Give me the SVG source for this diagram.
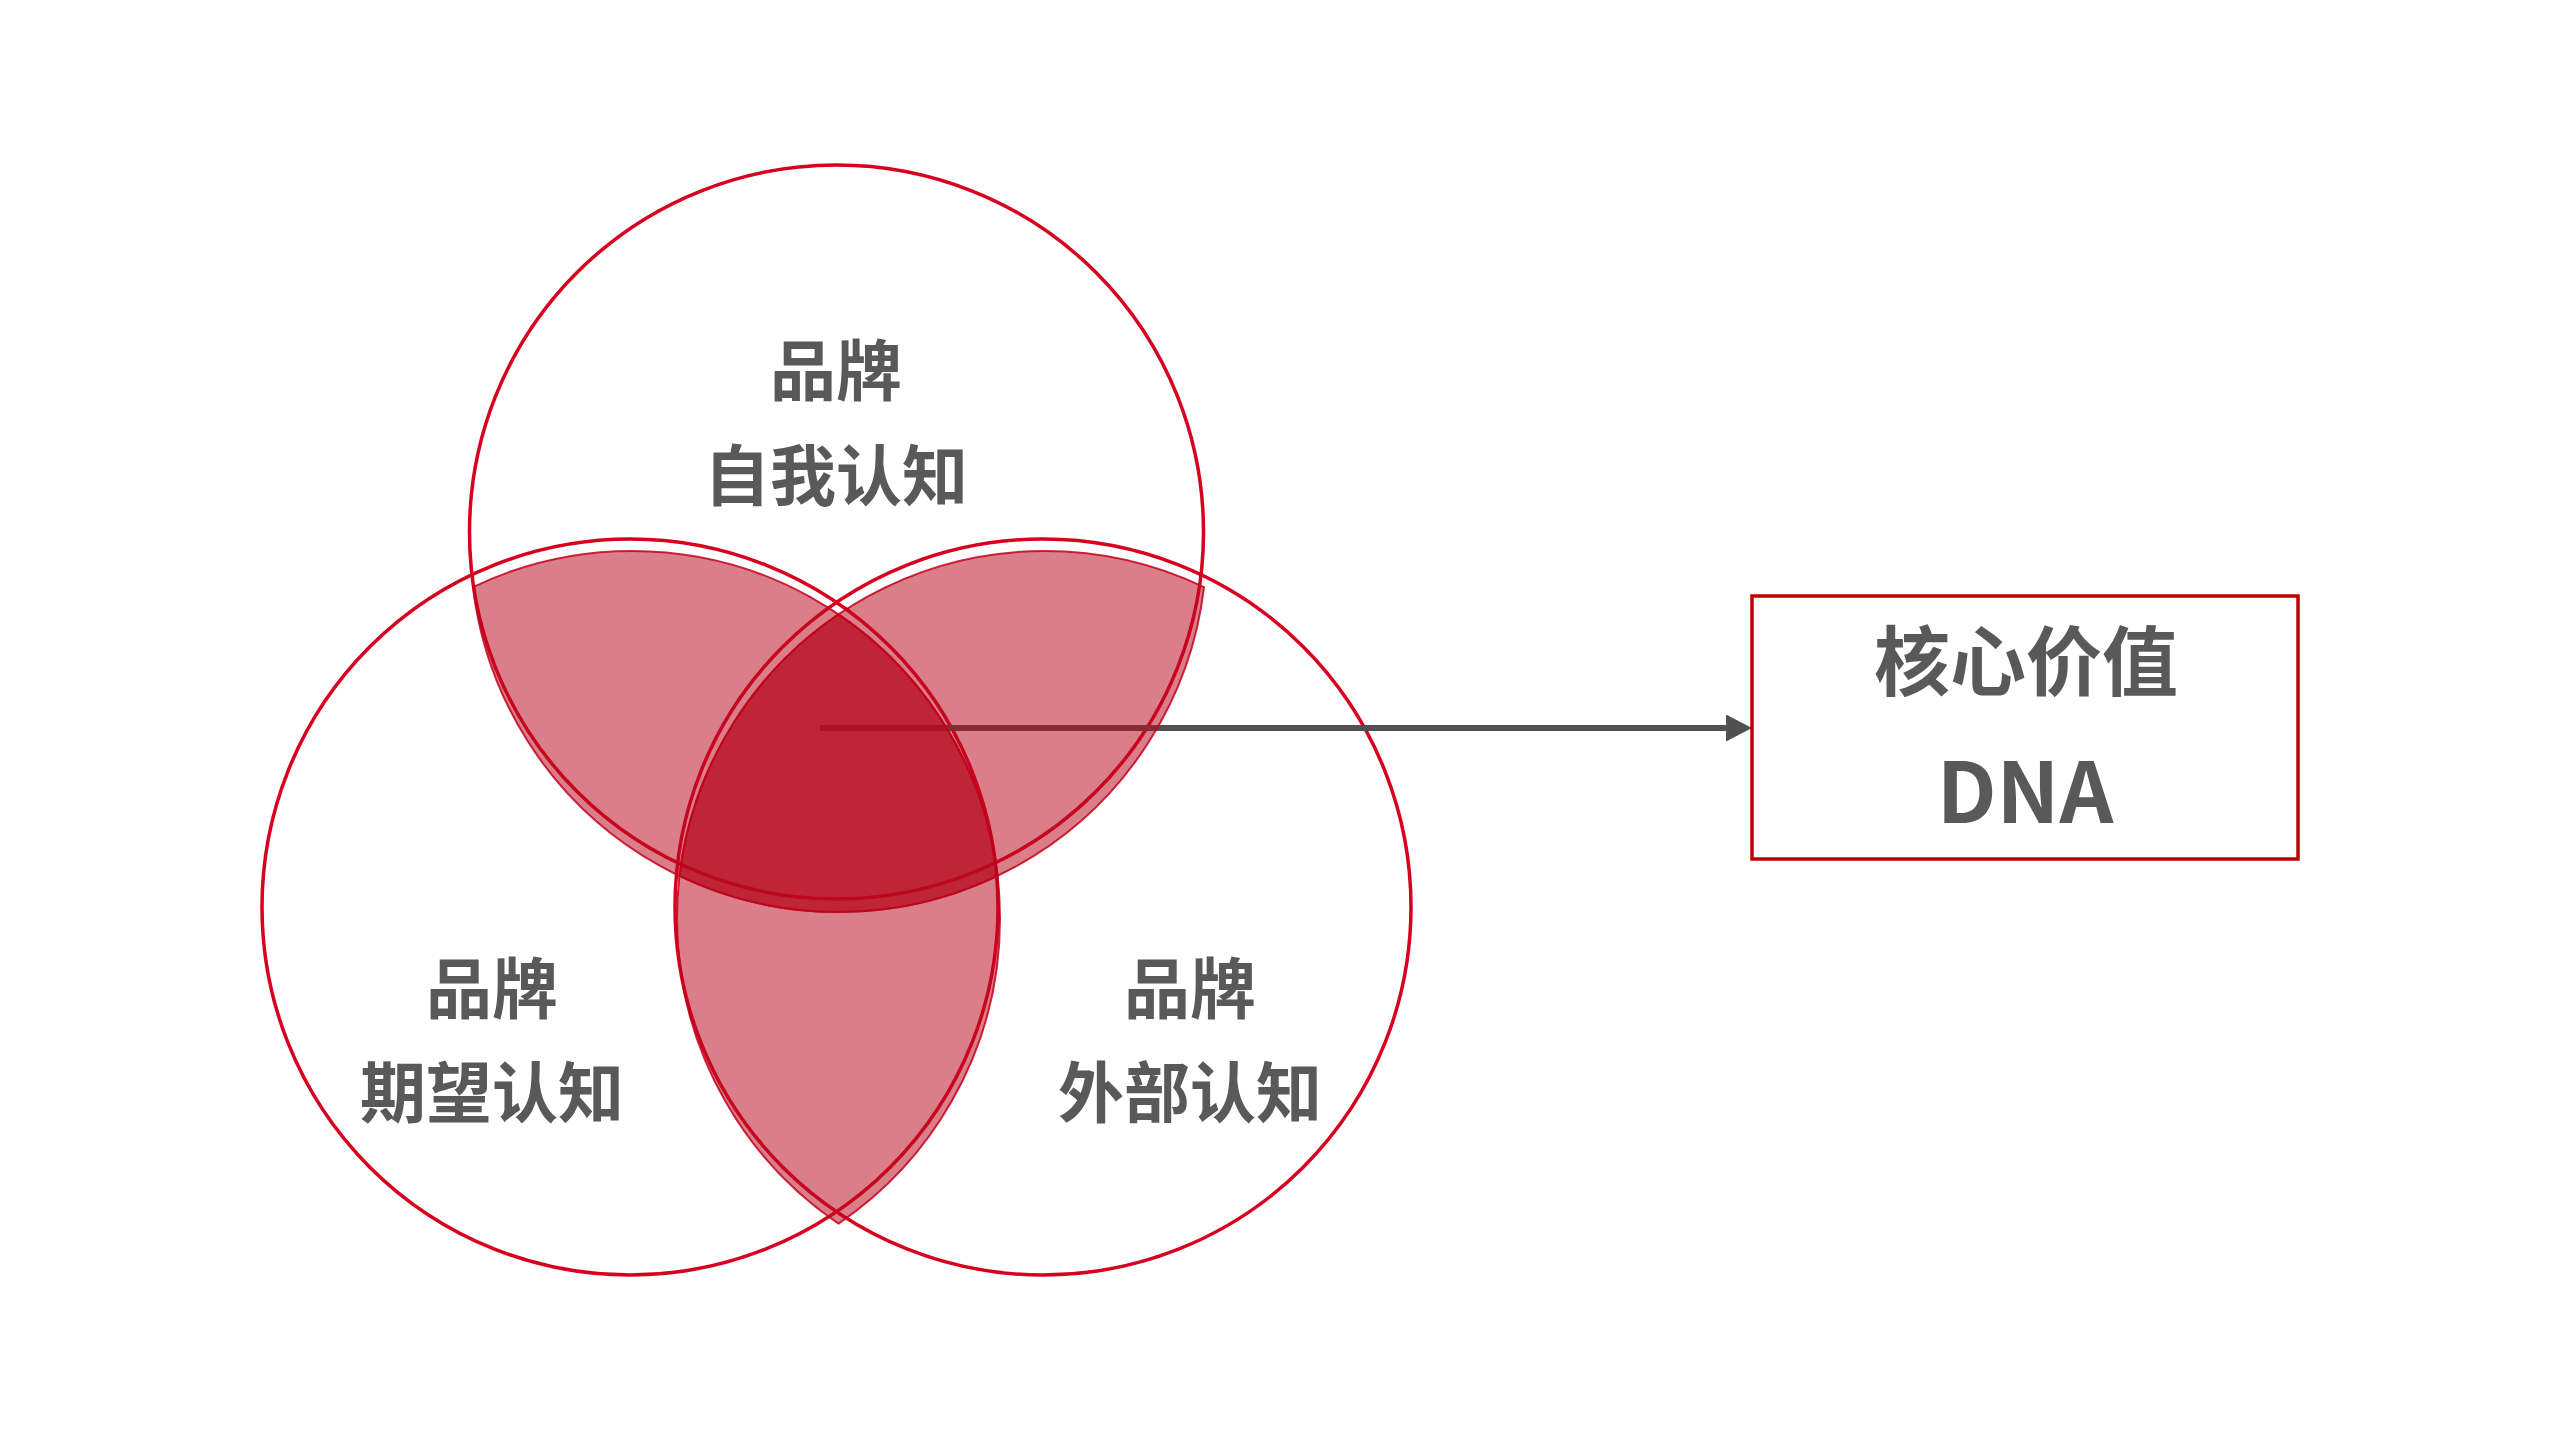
<svg xmlns="http://www.w3.org/2000/svg" width="2560" height="1440" viewBox="0 0 2560 1440">
  <defs>
    <style>
      .ring { fill: none; stroke: #d7001e; stroke-width: 3.5; }
      .lens { fill: #b80a1e; fill-opacity: 0.52; stroke: #c4001c; stroke-width: 2; stroke-opacity: 0.85; }
      .lbl { font-family: "Noto Sans CJK SC", "Noto Sans", sans-serif; font-weight: 700; fill: #595959; text-anchor: middle; }
      .conn { stroke: #505050; stroke-width: 6; fill: none; }
      .box { fill: #ffffff; stroke: #c00000; stroke-width: 3.5; }
    </style>
    <marker id="arrowhead" markerUnits="userSpaceOnUse" markerWidth="26" markerHeight="27" refX="1" refY="13.5" orient="auto">
      <path d="M0,0 L26,13.5 L0,27 Z" fill="#505050"/>
    </marker>
  </defs>
  <rect x="0" y="0" width="2560" height="1440" fill="#ffffff"/>

  <g id="node-self">
    <circle class="ring" cx="836.5" cy="532" r="367"/>
    <text class="lbl" x="836" y="395" font-size="66">品牌</text>
    <text class="lbl" x="836" y="500" font-size="66">自我认知</text>
  </g>

  <g id="node-expect">
    <circle class="ring" cx="630" cy="907" r="368"/>
    <text class="lbl" x="492" y="1013" font-size="66">品牌</text>
    <text class="lbl" x="492" y="1117" font-size="66">期望认知</text>
  </g>

  <g id="node-external">
    <circle class="ring" cx="1043" cy="907" r="368"/>
    <text class="lbl" x="1190" y="1013" font-size="66">品牌</text>
    <text class="lbl" x="1190" y="1117" font-size="66">外部认知</text>
  </g>

  <g id="connectors">
    <line class="conn" x1="820" y1="728" x2="1727" y2="728" marker-end="url(#arrowhead)"/>
  </g>

  <g id="overlaps">
    <path class="lens" d="M473.0,587.1 A368,368 0 0 1 997.5,875.9 A368,368 0 0 1 473.0,587.1 Z"/>
    <path class="lens" d="M1204.0,587.1 A368,368 0 0 0 679.5,875.9 A368,368 0 0 0 1204.0,587.1 Z"/>
    <path class="lens" d="M838.5,614.4 A368,368 0 0 1 838.5,1223.6 A368,368 0 0 1 838.5,614.4 Z"/>
  </g>

  <g id="node-core">
    <rect class="box" x="1752" y="596" width="546" height="263"/>
    <text class="lbl" x="2026" y="690" font-size="76">核心价值</text>
    <text class="lbl" x="2025" y="823" font-size="84">DNA</text>
  </g>
</svg>
